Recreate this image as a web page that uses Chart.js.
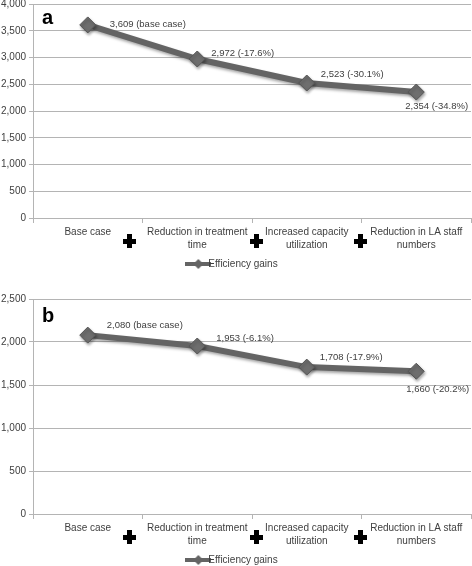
<!DOCTYPE html>
<html>
<head>
<meta charset="utf-8">
<script src="https://cdn.jsdelivr.net/npm/chart.js@4.4.1/dist/chart.umd.min.js"></script>
<style>
  html, body { margin:0; padding:0; background:#fff; width:472px; height:566px; overflow:hidden; position:relative; }
  .box { position:absolute; left:0; width:472px; }
  #boxA { top:0; height:279px; }
  #boxB { top:280px; height:295px; }
</style>
</head>
<body>
<div class="box" id="boxA"><canvas id="cA"></canvas></div>
<div class="box" id="boxB"><canvas id="cB"></canvas></div>
<script>
// ---- data ----
const categories = [["Base case"], ["Reduction in treatment", "time"], ["Increased capacity", "utilization"], ["Reduction in LA staff", "numbers"]];
const seriesName = "Efficiency gains";
const valuesA = [3609, 2972, 2523, 2354];
const changeA = ["base case", "-17.6%", "-30.1%", "-34.8%"];
const valuesB = [2080, 1953, 1708, 1660];
const changeB = ["base case", "-6.1%", "-17.9%", "-20.2%"];
const yMaxA = 4000, yMaxB = 2500, yStep = 500;

// ---- styling ----
const LINE = '#646464';
const GRID = '#b4b4b4';
const TEXT = '#404040';
const FONT = "'Liberation Sans', Arial, sans-serif";
const offsetsA = [[22, -1], [14, -6], [14, -9], [-11, 14]];
const offsetsB = [[19, -10], [19, -8], [13, -10], [-10, 18]];
const crossPos = [0.38, 1.54, 2.49];

function legendIcon() {
  const c = document.createElement('canvas');
  c.width = 26; c.height = 12;
  const x = c.getContext('2d');
  x.strokeStyle = LINE; x.lineWidth = 4;
  x.beginPath(); x.moveTo(0, 6); x.lineTo(26, 6); x.stroke();
  x.fillStyle = LINE;
  x.beginPath(); x.moveTo(13, 1); x.lineTo(18, 6); x.lineTo(13, 11); x.lineTo(8, 6); x.closePath(); x.fill();
  return c;
}

const decoPlugin = {
  id: 'deco',
  beforeDatasetsDraw(chart) {
    const ctx = chart.ctx;
    ctx.save();
    ctx.shadowColor = 'rgba(0,0,0,0.35)';
    ctx.shadowBlur = 3; ctx.shadowOffsetX = 1; ctx.shadowOffsetY = 2;
  },
  afterDatasetsDraw(chart) {
    chart.ctx.restore();
  },
  afterDraw(chart, args, opts) {
    const ctx = chart.ctx;
    const meta = chart.getDatasetMeta(0);
    ctx.save();
    ctx.font = "9.5px " + FONT;
    ctx.fillStyle = TEXT;
    ctx.textBaseline = 'middle';
    ctx.textAlign = 'left';
    meta.data.forEach((pt, i) => {
      const v = chart.data.datasets[0].data[i];
      const txt = v.toLocaleString('en-US') + ' (' + opts.changes[i] + ')';
      ctx.fillText(txt, pt.x + opts.offsets[i][0], pt.y + opts.offsets[i][1]);
    });
    // panel letter
    ctx.font = "bold 20px " + FONT;
    ctx.fillStyle = '#000';
    ctx.fillText(opts.letter, chart.chartArea.left + 9, chart.chartArea.top + opts.letterDy);
    // plus signs between steps
    const xs = chart.scales.x;
    const yBase = chart.chartArea.bottom + 23;
    ctx.fillStyle = '#000';
    crossPos.forEach(p => {
      const cx = Math.round(xs.getPixelForValue(p));
      ctx.fillRect(cx - 2, yBase - 7, 5, 14);
      ctx.fillRect(cx - 6, yBase - 2, 13, 5);
    });
    ctx.restore();
  }
};

function makeChart(id, values, changes, yMax, offsets, letter, padTop, letterDy) {
  return new Chart(document.getElementById(id), {
    type: 'line',
    data: {
      labels: categories,
      datasets: [{
        label: seriesName,
        data: values,
        borderColor: LINE,
        backgroundColor: LINE,
        borderWidth: 6,
        pointStyle: 'rectRot',
        pointRadius: 8,
        pointHoverRadius: 8,
        pointBackgroundColor: '#6e6e6e',
        pointBorderColor: '#555',
        pointBorderWidth: 1,
        tension: 0
      }]
    },
    options: {
      responsive: true,
      maintainAspectRatio: false,
      animation: false,
      events: [],
      layout: { autoPadding: false, padding: { top: padTop, right: 1, left: 0, bottom: 0 } },
      plugins: {
        tooltip: { enabled: false },
        legend: {
          position: 'bottom',
          labels: {
            usePointStyle: true,
            pointStyle: legendIcon(),
            font: { family: FONT, size: 10 },
            color: TEXT,
            padding: 4,
            boxHeight: 12
          }
        },
        deco: { changes: changes, offsets: offsets, letter: letter, letterDy: letterDy }
      },
      scales: {
        x: {
          offset: true,
          afterFit(s) { s.height = 37; s.paddingLeft = 0; s.paddingRight = 0; },
          grid: { display: true, offset: true, drawOnChartArea: false, drawTicks: true, tickLength: 5, color: GRID },
          border: { color: GRID },
          ticks: { font: { family: FONT, size: 10, lineHeight: 1.3 }, color: TEXT, maxRotation: 0, autoSkip: false, padding: 3 }
        },
        y: {
          min: 0, max: yMax,
          afterFit(s) { s.width = 33; s.paddingTop = 0; s.paddingBottom = 0; },
          grid: { color: GRID, tickLength: 4, drawTicks: true },
          border: { color: GRID },
          ticks: { stepSize: yStep, font: { family: FONT, size: 10 }, color: TEXT, padding: 3 }
        }
      }
    },
    plugins: [decoPlugin]
  });
}

makeChart('cA', valuesA, changeA, yMaxA, offsetsA, 'a', 4, 14);
makeChart('cB', valuesB, changeB, yMaxB, offsetsB, 'b', 19, 17);
</script>
</body>
</html>
